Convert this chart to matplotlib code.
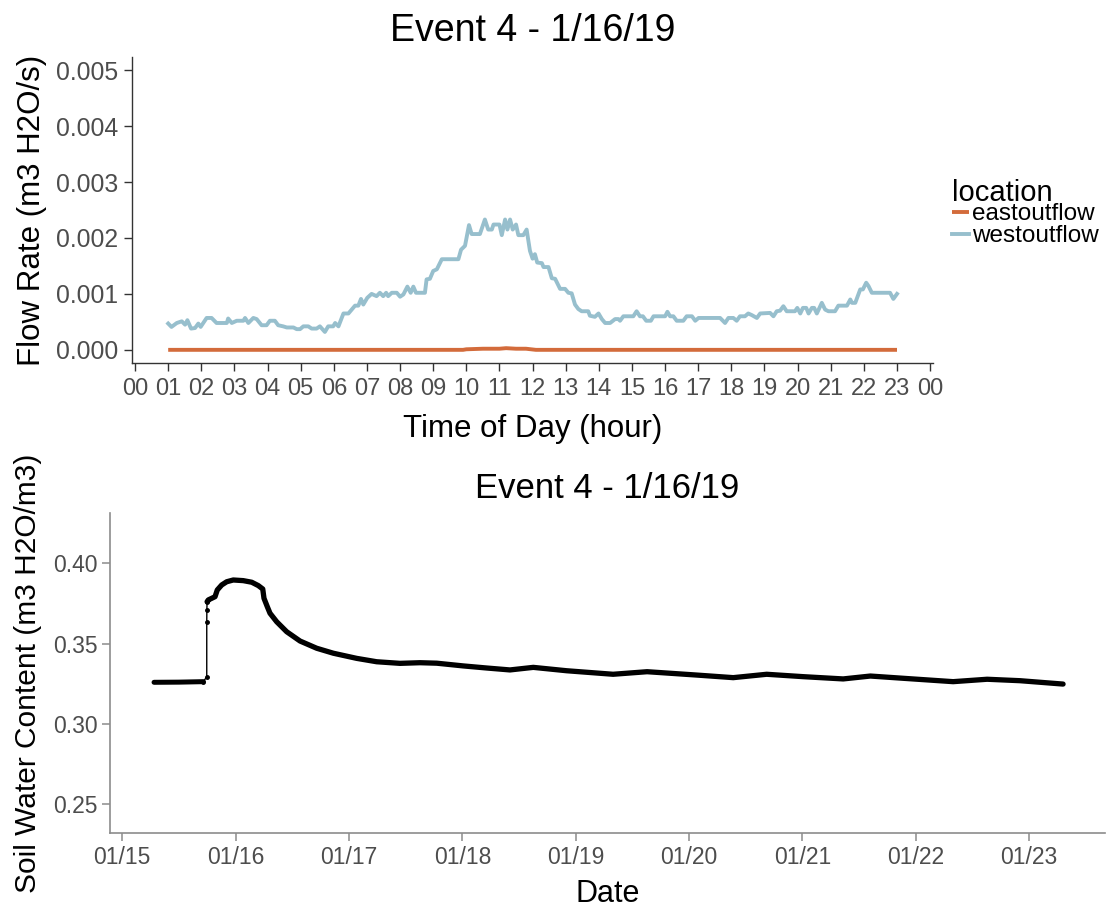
import matplotlib
matplotlib.use("Agg")
import matplotlib.pyplot as plt
import matplotlib.dates as mdates
import pandas as pd
import numpy as np

plt.rcParams['font.family'] = ['Liberation Sans', 'DejaVu Sans']

# ---------------- data: top panel (hour of day, flow m3/s) ----------------
west_hours = [1.00, 1.10, 1.26, 1.41, 1.51, 1.58, 1.69, 1.81, 1.91, 1.98, 2.16, 2.31, 2.46, 2.77,
              2.81, 2.92, 3.07, 3.27, 3.32, 3.42, 3.57, 3.67, 3.82, 3.97, 4.07, 4.22, 4.32, 4.47,
              4.58, 4.78, 4.88, 4.98, 5.08, 5.23, 5.33, 5.48, 5.58, 5.73, 5.83, 5.98, 6.04, 6.14,
              6.29, 6.44, 6.54, 6.64, 6.74, 6.82, 6.89, 7.01, 7.14, 7.29, 7.39, 7.49, 7.58, 7.64,
              7.75, 7.90, 8.00, 8.10, 8.22, 8.32, 8.40, 8.48, 8.75, 8.80, 8.90, 9.00, 9.11, 9.26,
              9.41, 9.76, 9.84, 9.96, 10.08, 10.16, 10.41, 10.56, 10.66, 10.77, 10.82, 11.00,
              11.07, 11.17, 11.24, 11.32, 11.40, 11.50, 11.57, 11.72, 11.82, 11.92, 12.00, 12.07,
              12.14, 12.28, 12.33, 12.48, 12.58, 12.68, 12.83, 12.98, 13.08, 13.18, 13.28, 13.38,
              13.48, 13.68, 13.73, 13.88, 13.99, 14.09, 14.19, 14.34, 14.49, 14.59, 14.64, 14.74,
              15.04, 15.14, 15.24, 15.33, 15.43, 15.57, 15.65, 16.00, 16.07, 16.15, 16.25, 16.35,
              16.55, 16.65, 16.81, 16.91, 17.01, 17.66, 17.81, 17.91, 18.06, 18.16, 18.26, 18.41,
              18.51, 18.62, 18.77, 18.87, 19.17, 19.27, 19.37, 19.47, 19.57, 19.67, 19.92, 19.99,
              20.08, 20.16, 20.26, 20.33, 20.43, 20.50, 20.58, 20.73, 20.83, 20.93, 21.13, 21.23,
              21.49, 21.59, 21.64, 21.74, 21.89, 21.97, 22.07, 22.14, 22.24, 22.79, 22.89, 23.00]
west_flow = [0.00047, 0.00041, 0.00048, 0.00051, 0.00045, 0.00053, 0.00038, 0.00039, 0.00047,
             0.00041, 0.00057, 0.00057, 0.00048, 0.00048, 0.00056, 0.00048, 0.00052, 0.00052,
             0.00057, 0.00048, 0.00057, 0.00055, 0.00044, 0.00044, 0.00052, 0.00052, 0.00044,
             0.00042, 0.00040, 0.00040, 0.00037, 0.00037, 0.00042, 0.00042, 0.00038, 0.00038,
             0.00042, 0.00032, 0.00042, 0.00042, 0.00048, 0.00042, 0.00065, 0.00065, 0.00072,
             0.00079, 0.00079, 0.00091, 0.00081, 0.00093, 0.00100, 0.00096, 0.00102, 0.00096,
             0.00102, 0.00096, 0.00102, 0.00102, 0.00095, 0.00099, 0.00113, 0.00102, 0.00113,
             0.00102, 0.00102, 0.00126, 0.00127, 0.00141, 0.00144, 0.00162, 0.00162, 0.00162,
             0.00179, 0.00186, 0.00223, 0.00207, 0.00207, 0.00233, 0.00215, 0.00215, 0.00224,
             0.00224, 0.00205, 0.00233, 0.00215, 0.00233, 0.00215, 0.00224, 0.00205, 0.00205,
             0.00215, 0.00177, 0.00163, 0.00171, 0.00156, 0.00155, 0.00148, 0.00148, 0.00128,
             0.00127, 0.00109, 0.00109, 0.00102, 0.00101, 0.00081, 0.00073, 0.00069, 0.00069,
             0.00061, 0.00059, 0.00065, 0.00055, 0.00048, 0.00048, 0.00055, 0.00055, 0.00052,
             0.00060, 0.00060, 0.00069, 0.00060, 0.00060, 0.00052, 0.00052, 0.00060, 0.00060,
             0.00068, 0.00060, 0.00060, 0.00052, 0.00052, 0.00060, 0.00060, 0.00052, 0.00057,
             0.00057, 0.00048, 0.00057, 0.00057, 0.00052, 0.00060, 0.00060, 0.00065, 0.00062,
             0.00057, 0.00065, 0.00066, 0.00060, 0.00069, 0.00070, 0.00078, 0.00069, 0.00069,
             0.00075, 0.00065, 0.00075, 0.00075, 0.00065, 0.00075, 0.00075, 0.00065, 0.00084,
             0.00072, 0.00069, 0.00069, 0.00079, 0.00079, 0.00090, 0.00084, 0.00084, 0.00108,
             0.00108, 0.00120, 0.00114, 0.00102, 0.00102, 0.00091, 0.00100]

east_hours = [1.0, 9.9, 10.0, 10.5, 11.0, 11.2, 11.5, 11.8, 12.1, 23.0]
east_flow = [0.0, 0.0, 0.00001, 0.00002, 0.00002, 0.00003, 0.00002, 0.00002, 0.0, 0.0]

hour_ticks = list(range(0, 25))
hour_labels = ["%02d" % (h % 24) for h in hour_ticks]
flow_ticks = [0.000, 0.001, 0.002, 0.003, 0.004, 0.005]

# ---------------- data: bottom panel (days after 2019-01-15, VWC) ----------------
swc_days = [0.28, 0.50, 0.715, 0.745, 0.745, 0.746, 0.748, 0.759, 0.789, 0.818, 0.838, 0.877,
            0.921, 0.979, 1.067, 1.142, 1.200, 1.239, 1.250, 1.279, 1.303, 1.362, 1.450, 1.568,
            1.715, 1.862, 2.068, 2.244, 2.450, 2.626, 2.774, 3.008, 3.215, 3.42, 3.626, 3.92,
            4.33, 4.63, 5.07, 5.39, 5.685, 6.01, 6.36, 6.60, 6.89, 7.33, 7.63, 7.92, 8.30]
swc_vals = [0.3259, 0.3260, 0.3263, 0.3294, 0.3636, 0.3709, 0.3761, 0.3772, 0.3782, 0.3792,
            0.3834, 0.3865, 0.3885, 0.3896, 0.3892, 0.3882, 0.3861, 0.3840, 0.3782, 0.3730,
            0.3689, 0.3636, 0.3574, 0.3516, 0.3471, 0.3440, 0.3408, 0.3387, 0.3377, 0.3381,
            0.3378, 0.3361, 0.3348, 0.3336, 0.3352, 0.3331, 0.3309, 0.3325, 0.3304, 0.3288,
            0.3309, 0.3294, 0.3280, 0.3298, 0.3284, 0.3263, 0.3278, 0.3269, 0.3248]
swc_ticks = [0.25, 0.30, 0.35, 0.40]

start = pd.Timestamp("2019-01-15")
swc_time = start + pd.to_timedelta(swc_days, unit="D")

colors = {"eastoutflow": "#D36B3B", "westoutflow": "#97BFCD"}
tick_gray = "#4D4D4D"

fig = plt.figure(figsize=(11.09, 9.10), dpi=100)

# ---------------- top panel ----------------
ax1 = fig.add_axes([0.1188, 0.6008, 0.7223, 0.3369])
l_east, = ax1.plot(east_hours, east_flow, color=colors["eastoutflow"], lw=2.8,
                   solid_capstyle="butt", zorder=3)
l_west, = ax1.plot(west_hours, west_flow, color=colors["westoutflow"], lw=2.8,
                   solid_joinstyle="round", zorder=2)
ax1.set_xlim(-0.1, 24.08)
ax1.set_ylim(-0.00024, 0.00524)
ax1.set_xticks(hour_ticks)
ax1.set_xticklabels(hour_labels)
ax1.set_yticks(flow_ticks)
ax1.set_yticklabels(["%.3f" % v for v in flow_ticks])
for s in ["top", "right"]:
    ax1.spines[s].set_visible(False)
for s in ["left", "bottom"]:
    ax1.spines[s].set_color("#333333")
    ax1.spines[s].set_linewidth(1.0)
ax1.tick_params(axis="both", colors="#333333", labelcolor=tick_gray, labelsize=17,
                length=5.5, width=1.0, pad=4)
ax1.tick_params(axis="x", pad=5)
ax1.tick_params(axis="y", labelsize=17.8)
ax1.set_title("Event 4 - 1/16/19", fontsize=27, pad=11)
ax1.set_xlabel("Time of Day (hour)", fontsize=22.5, labelpad=10)
ax1.set_ylabel("Flow Rate (m3 H2O/s)", fontsize=22.5, labelpad=7)

fig.text(0.8582, 0.7882, "location", fontsize=21, ha="left", va="center")
leg = ax1.legend([l_east, l_west], ["eastoutflow", "westoutflow"],
                 loc="upper left", bbox_to_anchor=(0.8582, 0.7765),
                 bbox_transform=fig.transFigure, frameon=False, fontsize=17.5,
                 handlelength=0.72, handletextpad=0.1,
                 labelspacing=0.0, borderpad=0, borderaxespad=0)

# ---------------- bottom panel ----------------
ax2 = fig.add_axes([0.0992, 0.0843, 0.8972, 0.3516])
ax2.plot(swc_time, swc_vals, color="black", lw=1.0, zorder=2)
ax2.plot(swc_time[:3], swc_vals[:3], color="black", lw=3.6, solid_capstyle="round", zorder=3)
ax2.plot(swc_time[6:], swc_vals[6:], color="black", lw=3.8, solid_capstyle="round",
         solid_joinstyle="round", zorder=3)
ax2.plot(swc_time[2:8], swc_vals[2:8], "o", color="black", ms=2.5, zorder=3)
ax2.set_xlim(start - pd.Timedelta(days=0.1085), start + pd.Timedelta(days=8.67))
ax2.set_ylim(0.2319, 0.4311)
ax2.set_yticks(swc_ticks)
ax2.set_yticklabels(["%.2f" % v for v in swc_ticks])
ax2.xaxis.set_major_locator(mdates.DayLocator())
ax2.xaxis.set_major_formatter(mdates.DateFormatter("%m/%d"))
for s in ["top", "right"]:
    ax2.spines[s].set_visible(False)
for s in ["left", "bottom"]:
    ax2.spines[s].set_color("#8C8C8C")
    ax2.spines[s].set_linewidth(1.2)
ax2.tick_params(axis="both", colors="#8C8C8C", labelcolor=tick_gray, labelsize=16.5,
                length=6, width=1.1, pad=3)
ax2.set_title("Event 4 - 1/16/19", fontsize=25, pad=11)
ax2.set_xlabel("Date", fontsize=22, labelpad=7)
ax2.set_ylabel("Soil Water Content (m3 H2O/m3)", fontsize=21.5, labelpad=8)

fig.savefig("out.png", dpi=100)
